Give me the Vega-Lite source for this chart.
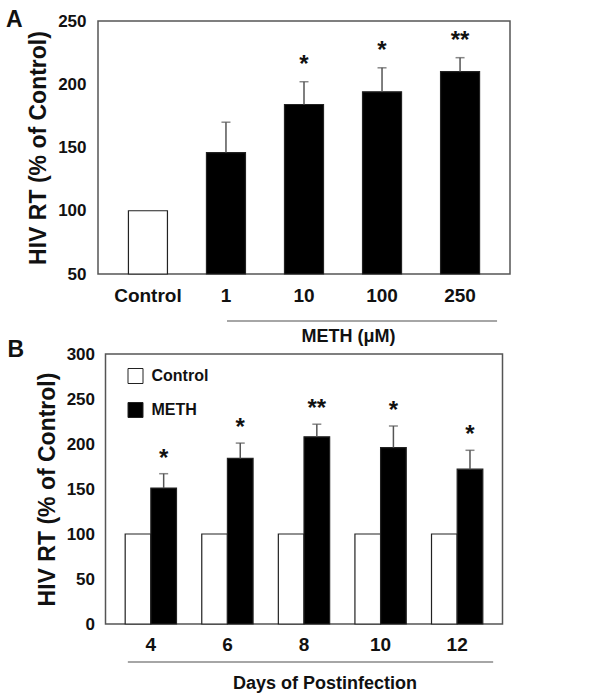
{
  "$schema": "https://vega.github.io/schema/vega-lite/v6.json",
  "background": "white",
  "padding": {"left": 5, "top": 8, "right": 5, "bottom": 5},
  "bounds": "flush",
  "center": true,
  "spacing": 80,
  "resolve": {"scale": {"fill": "independent"}, "legend": {"fill": "independent"}},
  "config": {
    "font": "Liberation Sans",
    "view": {"stroke": "#555", "strokeWidth": 1.5},
    "axis": {"labelFont": "Liberation Sans", "labelFontWeight": "bold", "labelColor": "#111", "titleFont": "Liberation Sans", "titleFontWeight": "bold", "titleColor": "#111", "domain": false, "ticks": false, "grid": false},
    "title": {"font": "Liberation Sans", "fontWeight": "bold", "fontSize": 23, "color": "#111", "anchor": "start", "frame": "group"},
    "legend": {"title": null, "symbolType": "square", "symbolSize": 225, "symbolStrokeColor": "#222", "symbolStrokeWidth": 1, "labelFontSize": 16, "labelFont": "Liberation Sans", "labelFontWeight": "bold", "labelColor": "#111", "labelOffset": 8, "rowPadding": 14}
  },
  "vconcat": [
    {
      "width": 412,
      "height": 253,
      "title": {"text": "A", "dx": -92, "offset": -20},
      "data": {"values": [
        {"cond": "Control", "group": "Control", "value": 100},
        {"cond": "1", "group": "METH", "value": 146, "err": 170},
        {"cond": "10", "group": "METH", "value": 184, "err": 202, "star": "*"},
        {"cond": "100", "group": "METH", "value": 194, "err": 213, "star": "*"},
        {"cond": "250", "group": "METH", "value": 210, "err": 221, "star": "**"}
      ]},
      "layer": [
        {
          "mark": {"type": "bar", "stroke": "#222", "strokeWidth": 1.2},
          "encoding": {
            "x": {"field": "cond", "type": "nominal", "sort": null,
              "scale": {"domain": ["Control", "1", "10", "100", "250"], "paddingInner": 0.5, "paddingOuter": 0.39},
              "axis": {"labelAngle": 0, "labelFontSize": 19, "labelPadding": 12, "title": "METH (μM)", "titleFontSize": 18, "titleX": 250, "titleY": 67, "titleBaseline": "alphabetic"}},
            "y": {"field": "value", "type": "quantitative",
              "scale": {"domain": [50, 250], "nice": false, "zero": false},
              "axis": {"values": [50, 100, 150, 200, 250], "labelFontSize": 17, "labelPadding": 12, "title": "HIV RT (% of Control)", "titleFontSize": 23, "titlePadding": 7}},
            "y2": {"datum": 50},
            "fill": {"field": "group", "type": "nominal", "scale": {"domain": ["Control", "METH"], "range": ["white", "black"]}, "legend": null}
          }
        },
        {
          "transform": [{"filter": "datum.err != null"}],
          "mark": {"type": "rule", "color": "#555", "strokeWidth": 1.5},
          "encoding": {
            "x": {"field": "cond", "type": "nominal", "sort": null},
            "y": {"field": "value", "type": "quantitative"},
            "y2": {"field": "err"}
          }
        },
        {
          "transform": [{"filter": "datum.err != null"}],
          "mark": {"type": "tick", "color": "#555", "size": 9, "thickness": 1.5},
          "encoding": {
            "x": {"field": "cond", "type": "nominal", "sort": null},
            "y": {"field": "err", "type": "quantitative"}
          }
        },
        {
          "transform": [{"filter": "datum.star != null"}],
          "mark": {"type": "text", "fontSize": 24, "fontWeight": "bold", "color": "#111", "dy": -17, "baseline": "middle"},
          "encoding": {
            "x": {"field": "cond", "type": "nominal", "sort": null},
            "y": {"field": "err", "type": "quantitative"},
            "text": {"field": "star"}
          }
        },
        {
          "data": {"values": [{"from": "1", "to": "250"}]},
          "mark": {"type": "rule", "color": "#888", "strokeWidth": 1.5, "yOffset": 47, "xOffset": 1, "x2Offset": 37, "clip": false},
          "encoding": {
            "x": {"field": "from", "type": "nominal"},
            "x2": {"field": "to"},
            "y": {"datum": 50}
          }
        }
      ]
    },
    {
      "width": 397,
      "height": 270,
      "title": {"text": "B", "dx": -98, "offset": -17},
      "data": {"values": [
        {"day": "4", "group": "Control", "value": 100},
        {"day": "4", "group": "METH", "value": 151, "err": 167, "star": "*"},
        {"day": "6", "group": "Control", "value": 100},
        {"day": "6", "group": "METH", "value": 184, "err": 201, "star": "*"},
        {"day": "8", "group": "Control", "value": 100},
        {"day": "8", "group": "METH", "value": 208, "err": 222, "star": "**"},
        {"day": "10", "group": "Control", "value": 100},
        {"day": "10", "group": "METH", "value": 196, "err": 220, "star": "*"},
        {"day": "12", "group": "Control", "value": 100},
        {"day": "12", "group": "METH", "value": 172, "err": 193, "star": "*"}
      ]},
      "layer": [
        {
          "mark": {"type": "bar", "stroke": "#222", "strokeWidth": 1.2},
          "encoding": {
            "x": {"field": "day", "type": "nominal", "sort": null,
              "scale": {"domain": ["4", "6", "8", "10", "12"], "paddingInner": 0.33, "paddingOuter": 0.257},
              "axis": {"labelAngle": 0, "labelFontSize": 19, "labelPadding": 11, "title": "Days of Postinfection", "titleFontSize": 18, "titleX": 219, "titleY": 64, "titleBaseline": "alphabetic"}},
            "xOffset": {"field": "group", "type": "nominal", "scale": {"domain": ["Control", "METH"], "paddingInner": 0, "paddingOuter": 0}},
            "y": {"field": "value", "type": "quantitative",
              "scale": {"domain": [0, 300], "nice": false},
              "axis": {"values": [0, 50, 100, 150, 200, 250, 300], "labelFontSize": 17, "labelPadding": 11, "title": "HIV RT (% of Control)", "titleFontSize": 23, "titlePadding": 7}},
            "fill": {"field": "group", "type": "nominal", "scale": {"domain": ["Control", "METH"], "range": ["white", "black"]},
              "legend": {"orient": "none", "legendX": 22, "legendY": 14}}
          }
        },
        {
          "transform": [{"filter": "datum.err != null"}],
          "mark": {"type": "rule", "color": "#555", "strokeWidth": 1.5},
          "encoding": {
            "x": {"field": "day", "type": "nominal", "sort": null},
            "xOffset": {"field": "group", "type": "nominal"},
            "y": {"field": "value", "type": "quantitative"},
            "y2": {"field": "err"}
          }
        },
        {
          "transform": [{"filter": "datum.err != null"}],
          "mark": {"type": "tick", "color": "#555", "size": 9, "thickness": 1.5},
          "encoding": {
            "x": {"field": "day", "type": "nominal", "sort": null},
            "xOffset": {"field": "group", "type": "nominal"},
            "y": {"field": "err", "type": "quantitative"}
          }
        },
        {
          "transform": [{"filter": "datum.star != null"}],
          "mark": {"type": "text", "fontSize": 24, "fontWeight": "bold", "color": "#111", "dy": -15, "baseline": "middle"},
          "encoding": {
            "x": {"field": "day", "type": "nominal", "sort": null},
            "xOffset": {"field": "group", "type": "nominal"},
            "y": {"field": "err", "type": "quantitative"},
            "text": {"field": "star"}
          }
        },
        {
          "data": {"values": [{"from": "4", "to": "12"}]},
          "mark": {"type": "rule", "color": "#888", "strokeWidth": 1.5, "yOffset": 38, "xOffset": -23, "x2Offset": 36, "clip": false},
          "encoding": {
            "x": {"field": "from", "type": "nominal"},
            "x2": {"field": "to"},
            "y": {"datum": 0}
          }
        }
      ]
    }
  ]
}
